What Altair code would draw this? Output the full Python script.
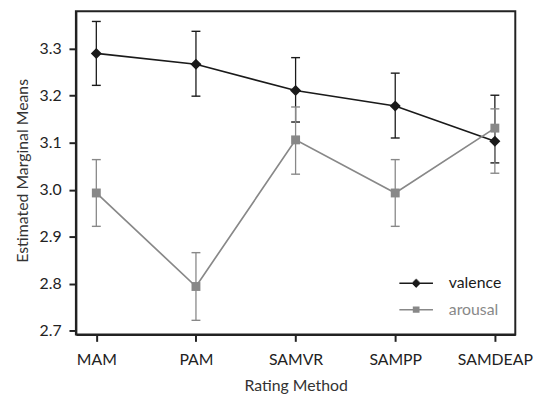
import altair as alt
import pandas as pd

methods = ["MAM", "PAM", "SAMVR", "SAMPP", "SAMDEAP"]
series_names = ["valence", "arousal"]
valence_mean = [3.290, 3.267, 3.211, 3.178, 3.103]
valence_hi = [3.358, 3.337, 3.281, 3.248, 3.201]
valence_lo = [3.222, 3.199, 3.144, 3.110, 3.057]
arousal_mean = [2.993, 2.794, 3.106, 2.993, 3.131]
arousal_hi = [3.064, 2.866, 3.176, 3.064, 3.172]
arousal_lo = [2.922, 2.722, 3.033, 2.922, 3.035]
y_ticks = [2.7, 2.8, 2.9, 3.0, 3.1, 3.2, 3.3]
colors = ["#1a1a1a", "#888888"]
marker_shapes = ["diamond", "square"]
marker_sizes = [125, 81]

rows = []
for s, m, h, l in [("valence", valence_mean, valence_hi, valence_lo),
                   ("arousal", arousal_mean, arousal_hi, arousal_lo)]:
    for i, meth in enumerate(methods):
        rows.append(dict(series=s, method=meth, idx=i, mean=m[i], hi=h[i], lo=l[i]))
df = pd.DataFrame(rows)

FONT = "Lato"
xscale = alt.Scale(type="point", domain=methods, padding=0.205)
xaxis = alt.Axis(title="Rating Method", labelAngle=0, labelBaseline="alphabetic",
                 labelPadding=23, titleBaseline="alphabetic", titleY=56.7)
yscale = alt.Scale(domain=[2.692, 3.3797], nice=False, zero=False)
yaxis = alt.Axis(title="Estimated Marginal Means", values=y_ticks, format=".1f",
                 labelPadding=8, titleBaseline="alphabetic", titleX=-48.5, titleY=161)


def X():
    return alt.X("method:N", scale=xscale, axis=xaxis)


def Y(field):
    return alt.Y(field, scale=yscale, axis=yaxis)


base = alt.Chart(df)
layers = []
subsets = [base.transform_filter(alt.datum.series == s) for s in series_names]

for sub, col in zip(subsets, colors):
    layers.append(sub.mark_line(strokeWidth=1.7, color=col).encode(
        x=X(), y=Y("mean:Q"), order=alt.Order("idx:Q")))
for sub, col in zip(subsets, colors):
    layers.append(sub.mark_rule(strokeWidth=1.3, color=col).encode(
        x=X(), y=Y("lo:Q"), y2="hi:Q"))
    layers.append(sub.mark_tick(orient="horizontal", size=9, thickness=1.4, opacity=1,
                                color=col).encode(x=X(), y=Y("lo:Q")))
    layers.append(sub.mark_tick(orient="horizontal", size=9, thickness=1.4, opacity=1,
                                color=col).encode(x=X(), y=Y("hi:Q")))
for sub, col, shp, sz in zip(subsets, colors, marker_shapes, marker_sizes):
    layers.append(sub.mark_point(shape=shp, filled=True, size=sz, opacity=1, color=col,
                                 strokeWidth=0).encode(x=X(), y=Y("mean:Q")))


# legend symbols: a line with a solid marker in the middle, drawn with strokes only
def hatch(rows_spec):
    return "".join("M%.3f,%.3fL%.3f,%.3f" % (-w, y, w, y) for y, w in rows_spec)


dia_rows = [(k / 10.0, 0.44 - abs(k) / 10.0) for k in range(-4, 5)]
sq_rows = [(k * 0.08, 0.34) for k in range(-3, 4)]
path_v = "M-1.7,0L1.7,0" + hatch(dia_rows)
path_a = "M-1.7,0L1.7,0" + hatch(sq_rows)

col_expr = {"expr": "datum.value == 'arousal' ? '%s' : '%s'" % (colors[1], colors[0])}
leg = alt.Legend(
    title=None, orient="none", legendX=333.3, legendY=264.3, symbolSize=400,
    labelFont=FONT, labelFontSize=16, labelOffset=22, rowPadding=7.7, padding=0,
    labelColor=col_expr, symbolStrokeWidth=1.5, symbolOpacity=1,
)

carrier = base.transform_filter("false").mark_point(filled=False, opacity=1,
                                                      strokeWidth=1.5).encode(
    x=X(), y=Y("mean:Q"),
    color=alt.Color("series:N", scale=alt.Scale(domain=series_names, range=colors), legend=leg),
    shape=alt.Shape("series:N", scale=alt.Scale(domain=series_names, range=[path_v, path_a]),
                    legend=leg))
layers.append(carrier)

chart = alt.layer(*layers).properties(
    width=444.6, height=327,
    padding={"left": 68.7, "top": 1, "right": 25, "bottom": 59},
    autosize=alt.AutoSizeParams(type="none"),
).configure_view(
    stroke="#222222", strokeWidth=2
).configure_axis(
    grid=False, labelFont=FONT, labelFontSize=16, labelColor="#222222",
    titleFont=FONT, titleFontSize=16, titleFontWeight="normal", titleColor="#333333",
    tickSize=7, tickWidth=2, tickColor="#222222", domainColor="#222222", domainWidth=2,
)

chart.save("out.html", embed_options={"renderer": "svg", "actions": False})
